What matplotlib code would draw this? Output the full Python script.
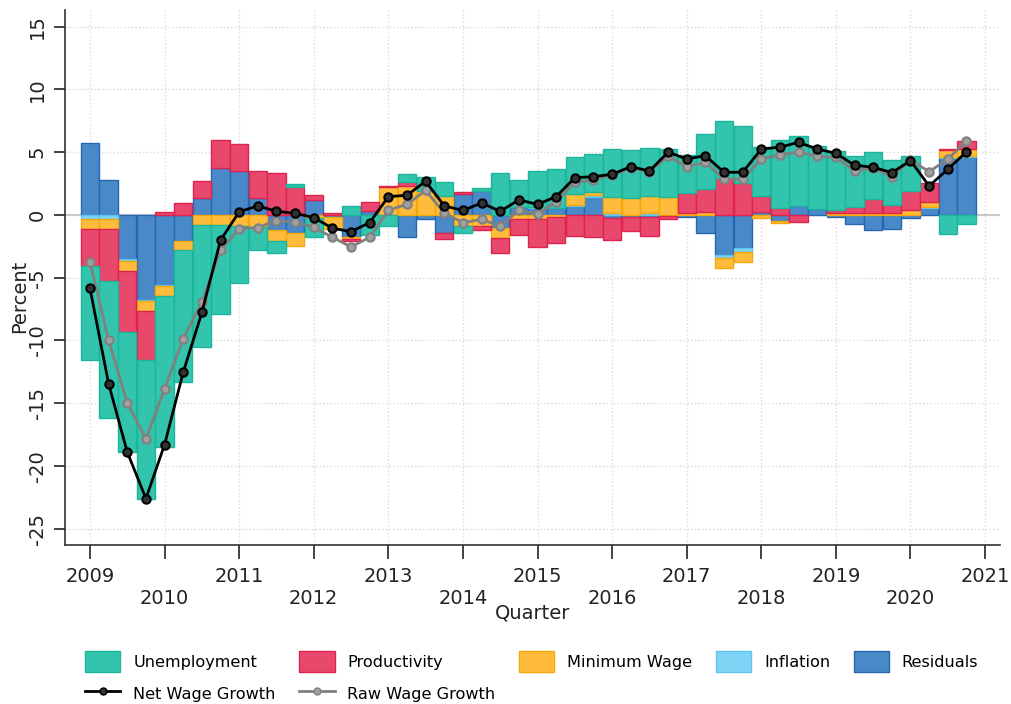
import matplotlib
matplotlib.use("Agg")
import matplotlib.pyplot as plt
import numpy as np
from matplotlib.patches import Patch
from matplotlib.lines import Line2D

# quarters 2009q1 .. 2020q4
quarters = [f"{y}q{q}" for y in range(2009, 2021) for q in range(1, 5)]

unemployment = [-7.5, -10.93, -9.6, -11.06, -12.02, -10.5, -9.7, -7.13, -4.52, -1.86, -0.98, 0.27,
                -1.46, 0, 0.72, -1.6, -0.88, 0.66, 1.1, 1.06, -0.58, 0.24, 3.32, 2.19,
                2.84, 3.11, 2.92, 3.0, 3.77, 3.77, 3.8, 3.83, 3.05, 4.38, 4.6, 4.52,
                3.93, 5.4, 5.6, 5.05, 4.73, 4.04, 3.8, 3.59, 2.79, 0, -1.51, -0.72]
productivity = [-2.93, -4.18, -4.84, -3.91, 0.27, 0.93, 1.33, 2.18, 2.18, 2.18, 3.32, 2.2,
                0.35, 0.13, -0.2, 0.66, 0.05, 0.29, 0, -0.53, 0.21, -0.32, -1.2, -1.25,
                -2.23, -2.07, -1.67, -1.75, -1.73, -1.1, -1.55, -0.2, 1.6, 1.78, 2.92, 2.58,
                1.25, 0.55, -0.53, 0, 0.27, 0.48, 1.06, 0.61, 1.51, 1.51, 0.13, 0.64]
min_wage = [-0.85, -0.75, -0.8, -0.8, -0.8, -0.75, -0.8, -0.8, -0.88, -0.93, -0.87, -1.04,
            -0.27, -0.95, -0.1, 0, 2.26, 2.31, 1.9, 1.54, -0.88, -0.88, -0.8, -0.35,
            -0.35, -0.19, 0.88, 0.27, 1.33, 1.38, 1.4, 1.4, 0.13, 0.27, -0.74, -0.8,
            -0.27, -0.18, 0, 0, 0.13, 0.19, 0.19, 0.19, 0.4, 0.4, 0.53, 0.53]
inflation = [-0.3, -0.35, -0.19, -0.08, -0.08, 0, 0, 0, 0, 0, 0, 0,
             0, 0, 0, 0, 0, 0, 0, 0, 0, 0, 0, 0,
             0.1, 0, 0.1, 0.13, 0.13, 0, 0.13, 0, 0, 0, -0.27, -0.27,
             0, 0, 0, 0, 0, 0, 0, 0, 0, 0.1, 0.1, 0.1]
residuals = [5.77, 2.77, -3.48, -6.78, -5.59, -2.07, 1.38, 3.78, 3.51, 1.33, -1.2, -1.41,
             1.2, -0.2, -1.78, 0.35, 0, -1.73, -0.3, -1.41, 1.65, 1.94, -1.06, 0.6,
             0.53, 0.53, 0.72, 1.46, -0.27, -0.19, -0.13, -0.1, -0.2, -1.46, -3.19, -2.66,
             0.27, -0.45, 0.7, 0.45, -0.13, -0.74, -1.2, -1.12, -0.27, 0.53, 4.52, 4.6]
net_wage = [-5.85, -13.46, -18.9, -22.6, -18.3, -12.53, -7.77, -2.02, 0.25, 0.72, 0.29, 0.13,
            -0.21, -1.06, -1.33, -0.61, 1.46, 1.57, 2.68, 0.72, 0.36, 0.95, 0.29, 1.2,
            0.84, 1.46, 2.97, 3.05, 3.24, 3.85, 3.5, 5.0, 4.46, 4.72, 3.4, 3.4,
            5.25, 5.4, 5.78, 5.25, 4.91, 3.96, 3.8, 3.37, 4.33, 2.31, 3.64, 5.02]
raw_wage = [-3.75, -10.0, -14.97, -17.85, -13.86, -9.87, -6.94, -2.8, -1.1, -1.01, -0.45, -0.58,
            -0.98, -1.78, -2.55, -1.78, 0.38, 0.85, 1.95, 0.15, -0.61, -0.36, -0.9, 0.37,
            0.07, 1.06, 2.6, 2.8, 3.2, 3.75, 3.45, 4.68, 3.85, 4.2, 2.85, 2.87,
            4.45, 4.78, 5.02, 4.68, 4.58, 3.53, 3.72, 3.05, 4.38, 3.45, 4.44, 5.9]

x = np.array([int(q[:4]) + (int(q[-1]) - 1) / 4 for q in quarters])

# stacked from zero outward: residuals first, unemployment last
components = [
    ("Residuals", residuals, "#4a89c8", "#2766b2"),
    ("Inflation", inflation, "#7fd3f5", "#5cc6ef"),
    ("Minimum Wage", min_wage, "#ffbb3c", "#f5a80c"),
    ("Productivity", productivity, "#e8486b", "#de2350"),
    ("Unemployment", unemployment, "#33c4ae", "#1db69a"),
]
styles = {name: (fc, ec) for name, _, fc, ec in components}

fig = plt.figure(figsize=(10.11, 7.04), dpi=100)
ax = fig.add_axes([65 / 1011, 159 / 704, 935 / 1011, 535 / 704])

pos = np.zeros(len(x))
neg = np.zeros(len(x))
for name, vals, fc, ec in components:
    v = np.array(vals, dtype=float)
    bottom = np.where(v >= 0, pos, neg)
    m = v != 0
    ax.bar(x[m], v[m], bottom=bottom[m], width=0.245, color=fc, edgecolor=ec,
           linewidth=1, zorder=2)
    pos += np.where(v > 0, v, 0)
    neg += np.where(v < 0, v, 0)

ax.axhline(0, color="#c8c8c8", lw=1.5, zorder=1)

ax.plot(x, raw_wage, color="#808080", lw=2, marker="o", ms=6, mfc="#a0a0a0",
        mec="#808080", mew=1.5, zorder=4)
ax.plot(x, net_wage, color="black", lw=2, marker="o", ms=6, mfc="#333333",
        mec="black", mew=1.5, zorder=5)

ax.set_xlim(2008.665, 2021.2)
ax.set_ylim(-26.3, 16.33)

years = list(range(2009, 2022))
ax.set_xticks(years)
ax.set_xticklabels([str(y) if y % 2 else "\n" + str(y) for y in years])
ax.set_yticks(range(-25, 20, 5))
ax.set_yticklabels([str(v) for v in range(-25, 20, 5)], rotation=90, va="center")
ax.tick_params(axis="x", length=10, width=1.2, pad=6, labelsize=14, colors="#222222")
ax.tick_params(axis="y", length=8, width=1.2, pad=5, labelsize=14, colors="#222222")

ax.grid(True, ls=":", color="#dadada", lw=1)
ax.set_axisbelow(True)
for s in ["top", "right"]:
    ax.spines[s].set_visible(False)
for s in ["left", "bottom"]:
    ax.spines[s].set_color("#333333")
    ax.spines[s].set_linewidth(1.2)

ax.set_xlabel("Quarter", fontsize=14, color="#222222")
ax.xaxis.set_label_coords(0.5, -0.11)
ax.set_ylabel("Percent", fontsize=14, color="#222222")
ax.yaxis.set_label_coords(-0.038, 0.465)

def patch(name):
    fc, ec = styles[name]
    return Patch(facecolor=fc, edgecolor=ec, label=name)

handles = [
    patch("Unemployment"),
    Line2D([], [], color="black", lw=2, marker="o", ms=5, mfc="#333333", label="Net Wage Growth"),
    patch("Productivity"),
    Line2D([], [], color="#808080", lw=2, marker="o", ms=5, mfc="#a0a0a0", label="Raw Wage Growth"),
    patch("Minimum Wage"),
    patch("Inflation"),
    patch("Residuals"),
]
fig.legend(handles=handles, ncol=5, loc="upper left", bbox_to_anchor=(85 / 1011, 1 - 651 / 704),
           frameon=False, fontsize=11.6, handlelength=2.2, handleheight=1.6,
           handletextpad=0.8, columnspacing=1.45, labelspacing=0.72, borderpad=0,
           borderaxespad=0)

fig.savefig("out.png", dpi=100)
